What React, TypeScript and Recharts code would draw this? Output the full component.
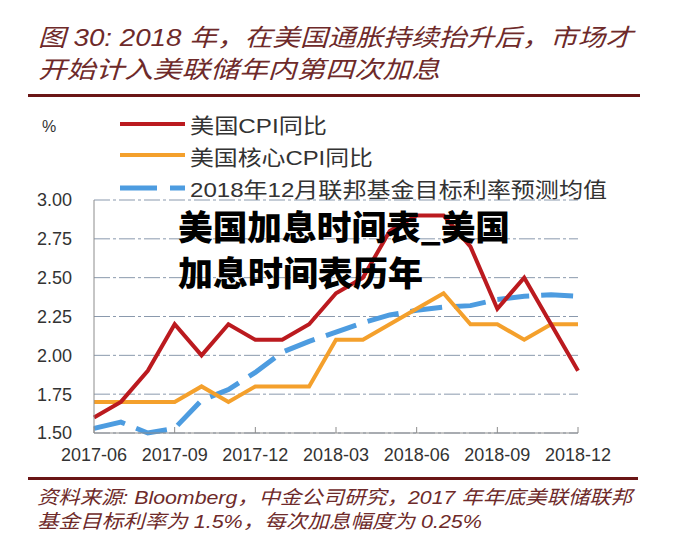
import { LineChart, Line, XAxis, YAxis, CartesianGrid } from "recharts";

const months = [
  "2017-06", "2017-07", "2017-08", "2017-09", "2017-10", "2017-11", "2017-12",
  "2018-01", "2018-02", "2018-03", "2018-04", "2018-05", "2018-06", "2018-07",
  "2018-08", "2018-09", "2018-10", "2018-11", "2018-12",
];
const cpi = [1.6, 1.7, 1.9, 2.2, 2.0, 2.2, 2.1, 2.1, 2.2, 2.4, 2.5, 2.8, 2.9, 2.9, 2.7, 2.3, 2.5, 2.2, 1.9];
const coreCpi = [1.7, 1.7, 1.7, 1.7, 1.8, 1.7, 1.8, 1.8, 1.8, 2.1, 2.1, 2.2, 2.3, 2.4, 2.2, 2.2, 2.1, 2.2, 2.2];
const fedForecast = [1.53, 1.57, 1.5, 1.53, 1.71, 1.78, 1.89, 2.02, 2.09, 2.15, 2.21, 2.26, 2.29, 2.31, 2.32, 2.36, 2.38, 2.39, 2.38];

const xTicks = ["2017-06", "2017-09", "2017-12", "2018-03", "2018-06", "2018-09", "2018-12"];
const yTicks = [1.5, 1.75, 2.0, 2.25, 2.5, 2.75, 3.0];

const seriesNames = ["美国CPI同比", "美国核心CPI同比", "2018年12月联邦基金目标利率预测均值"];
const titleLines = ["图 30: 2018 年，在美国通胀持续抬升后，市场才", "开始计入美联储年内第四次加息"];
const sourceLines = ["资料来源: Bloomberg，中金公司研究，2017 年年底美联储联邦", "基金目标利率为 1.5%，每次加息幅度为 0.25%"];
const overlayLines = ["美国加息时间表_美国", "加息时间表历年"];

const RED = "#bb1a1f";
const ORANGE = "#f4a02c";
const BLUE = "#4d9ce0";
const BROWN = "#6e2a2a";
const CJK = "'Liberation Sans', 'Noto Sans CJK SC', sans-serif";

const chartData = months.map((m, i) => ({
  month: m,
  cpi: cpi[i],
  core: coreCpi[i],
  fed: fedForecast[i],
}));

// x ticks point up into the plot, labels sit below the axis
const XTick = ({ x, y, payload }: any) => (
  <g>
    <line x1={x} x2={x} y1={y} y2={y - 6} stroke="#8c8c8c" strokeWidth={1} />
    <text x={x} y={y + 28} textAnchor="middle" fontSize={18} fill="#333" fontFamily="'Liberation Sans', Arial, sans-serif">
      {payload.value}
    </text>
  </g>
);

export default function App() {
  return (
    <div style={{ position: "absolute", left: 0, top: 0, width: 687, height: 555, background: "#fff" }}>
      <LineChart
        width={687}
        height={555}
        data={chartData}
        margin={{ top: 200, right: 109, left: 0, bottom: 92 }}
        style={{ position: "absolute", left: 0, top: 0 }}
      >
        <CartesianGrid vertical={false} stroke="#8a99ad" strokeDasharray="16 3 3 3" />
        <XAxis
          dataKey="month"
          ticks={xTicks}
          interval={0}
          height={30}
          tickSize={0}
          tickMargin={0}
          tickLine={false}
          axisLine={{ stroke: "#8c8c8c" }}
          tick={<XTick />}
        />
        <YAxis
          domain={[1.5, 3]}
          ticks={yTicks}
          width={94}
          tickSize={0}
          tickMargin={22}
          tickLine={false}
          axisLine={{ stroke: "#8c8c8c" }}
          tickFormatter={(v: number) => v.toFixed(2)}
          tick={{ fontSize: 18, fill: "#333", fontFamily: "'Liberation Sans', Arial, sans-serif" }}
        />
        <Line type="linear" dataKey="fed" stroke={BLUE} strokeWidth={5} strokeDasharray="32 12" dot={false} isAnimationActive={false} />
        <Line type="linear" dataKey="core" stroke={ORANGE} strokeWidth={4} dot={false} isAnimationActive={false} />
        <Line type="linear" dataKey="cpi" stroke={RED} strokeWidth={4} dot={false} isAnimationActive={false} />
      </LineChart>

      <svg width={687} height={555} style={{ position: "absolute", left: 0, top: 0, pointerEvents: "none" }}>
        {/* title */}
        <text x={38} y={37} dominantBaseline="central" fontSize={24} fontStyle="italic" fill={BROWN} fontFamily={CJK} textLength={595} lengthAdjust="spacingAndGlyphs">
          {titleLines[0]}
        </text>
        <text x={38} y={69} dominantBaseline="central" fontSize={24} fontStyle="italic" fill={BROWN} fontFamily={CJK} textLength={402} lengthAdjust="spacingAndGlyphs">
          {titleLines[1]}
        </text>
        <rect x={28} y={94} width={612} height={3} fill="#6a1616" />

        {/* legend */}
        <text x={42} y={126} dominantBaseline="central" fontSize={16} fill="#333" fontFamily="'Liberation Sans', Arial, sans-serif">%</text>
        <line x1={120} x2={185} y1={124} y2={124} stroke={RED} strokeWidth={4} />
        <line x1={120} x2={185} y1={155} y2={155} stroke={ORANGE} strokeWidth={4} />
        <line x1={120} x2={185} y1={188} y2={188} stroke={BLUE} strokeWidth={5} strokeDasharray="37 13" />
        <text x={190} y={125} dominantBaseline="central" fontSize={21} fill="#333" fontFamily={CJK} textLength={137} lengthAdjust="spacingAndGlyphs">
          {seriesNames[0]}
        </text>
        <text x={190} y={157} dominantBaseline="central" fontSize={21} fill="#333" fontFamily={CJK} textLength={183} lengthAdjust="spacingAndGlyphs">
          {seriesNames[1]}
        </text>
        <text x={190} y={189} dominantBaseline="central" fontSize={21} fill="#333" fontFamily={CJK} textLength={417} lengthAdjust="spacingAndGlyphs">
          {seriesNames[2]}
        </text>

        {/* overlay caption */}
        <text x={178} y={225} dominantBaseline="central" fontSize={34} fontWeight={900} fill="#000" fontFamily="'Noto Sans CJK SC', sans-serif" textLength={332} lengthAdjust="spacingAndGlyphs">
          {overlayLines[0]}
        </text>
        <text x={178} y={271} dominantBaseline="central" fontSize={34} fontWeight={900} fill="#000" fontFamily="'Noto Sans CJK SC', sans-serif" textLength={245} lengthAdjust="spacingAndGlyphs">
          {overlayLines[1]}
        </text>

        {/* source */}
        <rect x={28} y={477} width={610} height={3} fill="#6a1616" />
        <text x={37} y={497} dominantBaseline="central" fontSize={19} fontStyle="italic" fill={BROWN} fontFamily={CJK} textLength={595} lengthAdjust="spacingAndGlyphs">
          {sourceLines[0]}
        </text>
        <text x={37} y={521} dominantBaseline="central" fontSize={19} fontStyle="italic" fill={BROWN} fontFamily={CJK} textLength={445} lengthAdjust="spacingAndGlyphs">
          {sourceLines[1]}
        </text>
      </svg>
    </div>
  );
}
